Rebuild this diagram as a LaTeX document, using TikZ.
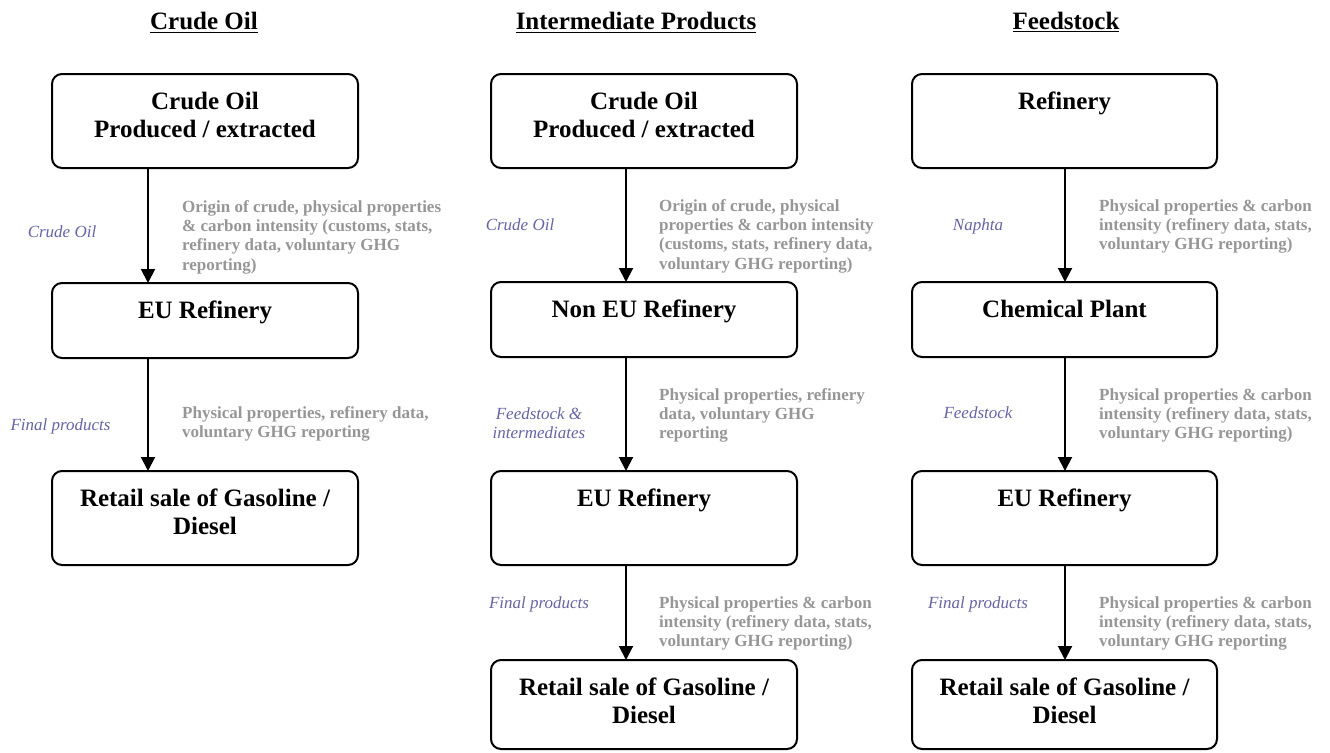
\documentclass[tikz,border=0pt]{standalone}
\usepackage{fontspec}
\setmainfont{Liberation Serif}
\usetikzlibrary{arrows.meta}
\definecolor{infogray}{RGB}{150,150,150}
\definecolor{flowblue}{RGB}{100,100,165}
\begin{document}
\begin{tikzpicture}[x=1pt,y=-1pt,
  box/.style={draw, line width=2pt, rounded corners=10pt, inner sep=0pt, outer sep=0pt},
  btext/.style={font=\fontsize{25}{28}\selectfont\bfseries, align=center, anchor=base, inner sep=0pt},
  ttl/.style={font=\fontsize{25}{28}\selectfont\bfseries, anchor=base, inner sep=0pt},
  info/.style={font=\fontsize{17}{19.4}\selectfont\bfseries, text=infogray, align=left, anchor=base west, inner sep=0pt},
  flow/.style={font=\fontsize{17}{19.4}\selectfont\itshape, text=flowblue, align=center, anchor=base, inner sep=0pt},
  arr/.style={line width=2pt, -{Triangle[width=14pt,length=14pt]}}
]
\useasboundingbox (0,0) rectangle (1330,752);

% titles
\node[ttl] (t1) at (204,30) {\underline{Crude Oil}};
\node[ttl] (t2) at (636,30) {\underline{Intermediate Products}};
\node[ttl] (t3) at (1066,30) {\underline{Feedstock}};

% arrow axes
\coordinate (ax1) at (148,0);
\coordinate (ax2) at (626,0);
\coordinate (ax3) at (1065,0);

% ---------- column 1
\node[box, minimum width=306pt, minimum height=94pt] (a1) at (205,121) {};
\node[box, minimum width=306pt, minimum height=75pt] (a2) at (205,320.5) {};
\node[box, minimum width=306pt, minimum height=94pt] (a3) at (205,518) {};
\node[btext] (a1t) at (205,137) {Crude Oil\\Produced / extracted};
\node[btext] (a2t) at (205,318) {EU Refinery};
\node[btext] (a3t) at (205,534) {Retail sale of Gasoline /\\Diesel};
\draw[arr] (a1.south -| ax1) -- (a2.north -| ax1);
\draw[arr] (a2.south -| ax1) -- (a3.north -| ax1);
\node[flow] (a1f) at (62,237) {Crude Oil};
\node[info] (a1i) at (182,270.2) {Origin of crude, physical properties\\\& carbon intensity (customs, stats,\\refinery data, voluntary GHG\\reporting)};
\node[flow] (a2f) at (60.5,430) {Final products};
\node[info] (a2i) at (182,437.4) {Physical properties, refinery data,\\voluntary GHG reporting};

% ---------- column 2
\node[box, minimum width=306pt, minimum height=94pt] (b1) at (644,121) {};
\node[box, minimum width=306pt, minimum height=75pt] (b2) at (644,319.5) {};
\node[box, minimum width=306pt, minimum height=94pt] (b3) at (644,518) {};
\node[box, minimum width=306pt, minimum height=89pt] (b4) at (644,704.5) {};
\node[btext] (b1t) at (644,137) {Crude Oil\\Produced / extracted};
\node[btext] (b2t) at (644,317) {Non EU Refinery};
\node[btext] (b3t) at (644,506) {EU Refinery};
\node[btext] (b4t) at (644,723) {Retail sale of Gasoline /\\Diesel};
\draw[arr] (b1.south -| ax2) -- (b2.north -| ax2);
\draw[arr] (b2.south -| ax2) -- (b3.north -| ax2);
\draw[arr] (b3.south -| ax2) -- (b4.north -| ax2);
\node[flow] (b1f) at (520,230) {Crude Oil};
\node[info] (b1i) at (659,269.2) {Origin of crude, physical\\properties \& carbon intensity\\(customs, stats, refinery data,\\voluntary GHG reporting)};
\node[flow] (b2f) at (539,438.4) {Feedstock \&\\intermediates};
\node[info] (b2i) at (659,438.8) {Physical properties, refinery\\data, voluntary GHG\\reporting};
\node[flow] (b3f) at (539,608) {Final products};
\node[info] (b3i) at (659,646.8) {Physical properties \& carbon\\intensity (refinery data, stats,\\voluntary GHG reporting)};

% ---------- column 3
\node[box, minimum width=305pt, minimum height=94pt] (c1) at (1064.5,121) {};
\node[box, minimum width=305pt, minimum height=75pt] (c2) at (1064.5,319.5) {};
\node[box, minimum width=305pt, minimum height=94pt] (c3) at (1064.5,518) {};
\node[box, minimum width=305pt, minimum height=89pt] (c4) at (1064.5,704.5) {};
\node[btext] (c1t) at (1064.5,109) {Refinery};
\node[btext] (c2t) at (1064.5,317) {Chemical Plant};
\node[btext] (c3t) at (1064.5,506) {EU Refinery};
\node[btext] (c4t) at (1064.5,723) {Retail sale of Gasoline /\\Diesel};
\draw[arr] (c1.south -| ax3) -- (c2.north -| ax3);
\draw[arr] (c2.south -| ax3) -- (c3.north -| ax3);
\draw[arr] (c3.south -| ax3) -- (c4.north -| ax3);
\node[flow] (c1f) at (978,230) {Naphta};
\node[info] (c1i) at (1099,249.8) {Physical properties \& carbon\\intensity (refinery data, stats,\\voluntary GHG reporting)};
\node[flow] (c2f) at (978,418) {Feedstock};
\node[info] (c2i) at (1099,438.8) {Physical properties \& carbon\\intensity (refinery data, stats,\\voluntary GHG reporting)};
\node[flow] (c3f) at (978,608) {Final products};
\node[info] (c3i) at (1099,646.8) {Physical properties \& carbon\\intensity (refinery data, stats,\\voluntary GHG reporting};
\end{tikzpicture}
\end{document}
